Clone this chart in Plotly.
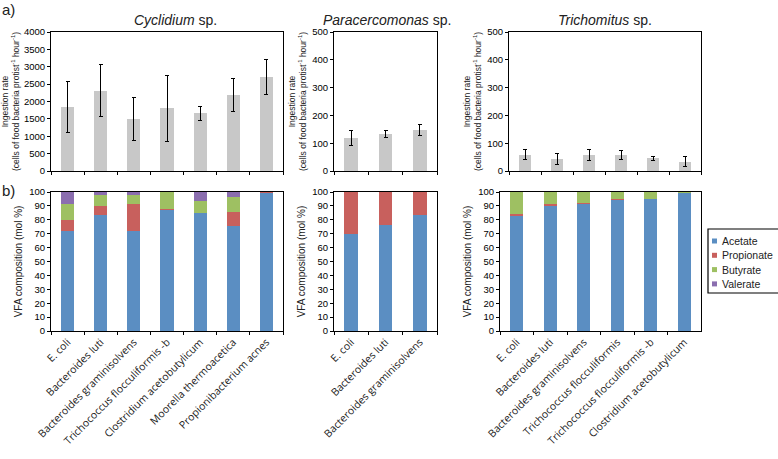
import plotly.graph_objects as go

W, H = 778, 459

# ---------------- data ----------------
cyc_cats = ["E. coli", "Bacteroides luti", "Bacteroides graminisolvens",
            "Trichococcus flocculiformis -b", "Clostridium acetobutylicum",
            "Moorella thermoacetica", "Propionibacterium acnes"]
cyc_rate = [1840, 2310, 1500, 1800, 1655, 2190, 2705]
cyc_err = [745, 750, 620, 945, 195, 467, 510]
cyc_acetate = [71.6, 83.4, 71.6, 87.3, 84.6, 75.2, 99.0]
cyc_propionate = [8.4, 6.7, 19.5, 0.5, 0.0, 10.4, 1.0]
cyc_butyrate = [11.3, 7.5, 6.5, 12.2, 9.2, 10.8, 0.0]
cyc_valerate = [8.7, 2.4, 2.4, 0.0, 6.2, 3.6, 0.0]

par_cats = ["E. coli", "Bacteroides luti", "Bacteroides graminisolvens"]
par_rate = [119, 132, 147]
par_err = [27, 12, 21]
par_acetate = [69.7, 76.2, 83.7]
par_propionate = [30.3, 23.8, 16.3]
par_butyrate = [0, 0, 0]
par_valerate = [0, 0, 0]

tri_cats = ["E. coli", "Bacteroides luti", "Bacteroides graminisolvens",
            "Trichococcus flocculiformis", "Trichococcus flocculiformis -b",
            "Clostridium acetobutylicum"]
tri_rate = [58, 44, 58, 57, 45, 34]
tri_err = [18, 19, 21, 15, 7, 17]
tri_acetate = [83.0, 89.7, 91.6, 94.0, 94.7, 99.6]
tri_propionate = [1.2, 1.7, 0.7, 1.0, 0.3, 0.0]
tri_butyrate = [15.8, 8.6, 7.7, 5.0, 5.0, 0.4]
tri_valerate = [0, 0, 0, 0, 0, 0]

vfa_names = ["Acetate", "Propionate", "Butyrate", "Valerate"]
vfa_colors = ["#5B8EC2", "#C8605D", "#9EC062", "#8B6EAF"]
gray = "#C8C8C8"

titles = [("<i>Cyclidium</i> sp.", 175), ("<i>Paracercomonas</i> sp.", 387), ("<i>Trichomitus</i> sp.", 605)]

# ---------------- layout geometry (pixels) ----------------
def xd(a, b):
    return [a / W, b / W]

def yd(top, bottom):
    return [1 - bottom / H, 1 - top / H]

fig = go.Figure()

panels = [
    (cyc_cats, cyc_rate, cyc_err, [cyc_acetate, cyc_propionate, cyc_butyrate, cyc_valerate], 4000, 500),
    (par_cats, par_rate, par_err, [par_acetate, par_propionate, par_butyrate, par_valerate], 500, 100),
    (tri_cats, tri_rate, tri_err, [tri_acetate, tri_propionate, tri_butyrate, tri_valerate], 500, 100),
]
a_x = [(51, 283), (334, 437), (509, 701)]
b_x = [(51, 283), (334, 437), (500, 701)]
a_y = (32, 171)
b_y = (192, 331)

tickfont = dict(family="Liberation Sans, Arial", size=9.5, color="black")
catfont = dict(family="Open Sans, Noto Sans", size=10.5, color="#222")

for i, (cats, rate, err, vfa, ymax, dt) in enumerate(panels):
    ax_a = 2 * i + 1
    ax_b = 2 * i + 2
    xa = "x" if ax_a == 1 else f"x{ax_a}"
    ya = "y" if ax_a == 1 else f"y{ax_a}"
    xb = f"x{ax_b}"
    yb = f"y{ax_b}"
    fig.add_trace(go.Bar(x=cats, y=rate, xaxis=xa, yaxis=ya, width=0.4,
                         marker=dict(color=gray, line=dict(width=0)),
                         error_y=dict(type="data", array=err, color="black", thickness=1, width=2),
                         showlegend=False))
    for k in range(4):
        fig.add_trace(go.Bar(x=cats, y=vfa[k], xaxis=xb, yaxis=yb, width=0.4,
                             name=vfa_names[k], legendgroup=vfa_names[k],
                             marker=dict(color=vfa_colors[k], line=dict(width=0)),
                             showlegend=False))
    common_x = dict(type="category", showline=True, linecolor="black", linewidth=1, mirror=True,
                    ticks="outside", tickson="boundaries", ticklen=3, tickcolor="black",
                    showgrid=False, zeroline=False, fixedrange=True, automargin=False)
    common_y = dict(showline=True, linecolor="black", linewidth=1, mirror=True,
                    ticks="outside", ticklen=3, tickcolor="black", showgrid=False,
                    zeroline=False, tickfont=tickfont, fixedrange=True, automargin=False)
    key_a = "xaxis" if ax_a == 1 else f"xaxis{ax_a}"
    key_ya = "yaxis" if ax_a == 1 else f"yaxis{ax_a}"
    fig.layout[key_a] = dict(common_x, domain=xd(*a_x[i]), anchor=ya, showticklabels=False,
                             range=[-0.5, len(cats) - 0.5])
    fig.layout[key_ya] = dict(common_y, domain=yd(*a_y), anchor=xa, range=[0, ymax], dtick=dt,
                              title=dict(text="Ingestion rate<br>(cells of food bacteria protist<sup>-1</sup> hour<sup>-1</sup>)",
                                         font=dict(family="Liberation Sans, Arial", size=8.5, color="#222"),
                                         standoff=4))
    fig.layout[f"xaxis{ax_b}"] = dict(common_x, domain=xd(*b_x[i]), anchor=yb, tickangle=-45,
                                      tickfont=catfont, range=[-0.5, len(cats) - 0.5])
    fig.layout[f"yaxis{ax_b}"] = dict(common_y, domain=yd(*b_y), anchor=xb, range=[0, 100], dtick=10,
                                      title=dict(text="VFA composition (mol %)",
                                                 font=dict(family="Liberation Sans, Arial", size=10, color="#222"),
                                                 standoff=4))

annotations = []
shapes = []
for t, cx in titles:
    annotations.append(dict(text=t, x=cx / W, y=1 - 20 / H, xref="paper", yref="paper",
                            showarrow=False, xanchor="center", yanchor="middle",
                            font=dict(family="Liberation Sans, Arial", size=14, color="#222")))
annotations.append(dict(text="a)", x=0, y=1 - 10 / H, xref="paper", yref="paper", showarrow=False,
                        xanchor="left", yanchor="middle",
                        font=dict(family="Liberation Sans, Arial", size=15, color="#222")))
annotations.append(dict(text="b)", x=0, y=1 - 190 / H, xref="paper", yref="paper", showarrow=False,
                        xanchor="left", yanchor="middle",
                        font=dict(family="Liberation Sans, Arial", size=15, color="#222")))

# legend box (drawn in paper pixels)
lx0, ly0, lx1, ly1 = 708, 229, 790, 293
shapes.append(dict(type="rect", xref="paper", yref="paper", x0=lx0 / W, x1=lx1 / W,
                   y0=1 - ly1 / H, y1=1 - ly0 / H, line=dict(color="black", width=1.2),
                   fillcolor="white", layer="above"))
for k, (nm, col) in enumerate(zip(vfa_names, vfa_colors)):
    cy = 241 + k * 14.3
    shapes.append(dict(type="rect", xref="paper", yref="paper",
                       x0=712 / W, x1=717 / W, y0=1 - (cy + 2.5) / H, y1=1 - (cy - 2.5) / H,
                       line=dict(width=0), fillcolor=col, layer="above"))
    annotations.append(dict(text=nm, x=720 / W, y=1 - cy / H, xref="paper", yref="paper",
                            showarrow=False, xanchor="left", yanchor="middle",
                            font=dict(family="Liberation Sans, Arial", size=10.5, color="#222")))

fig.update_layout(
    width=W, height=H, margin=dict(l=0, r=0, t=0, b=0),
    paper_bgcolor="white", plot_bgcolor="white",
    barmode="stack", bargap=0.6, showlegend=False,
    annotations=annotations, shapes=shapes,
)

fig.write_html("out.html", config={"displayModeBar": False, "staticPlot": True},
               post_script="document.body.style.margin='0';document.body.style.overflow='hidden';")
